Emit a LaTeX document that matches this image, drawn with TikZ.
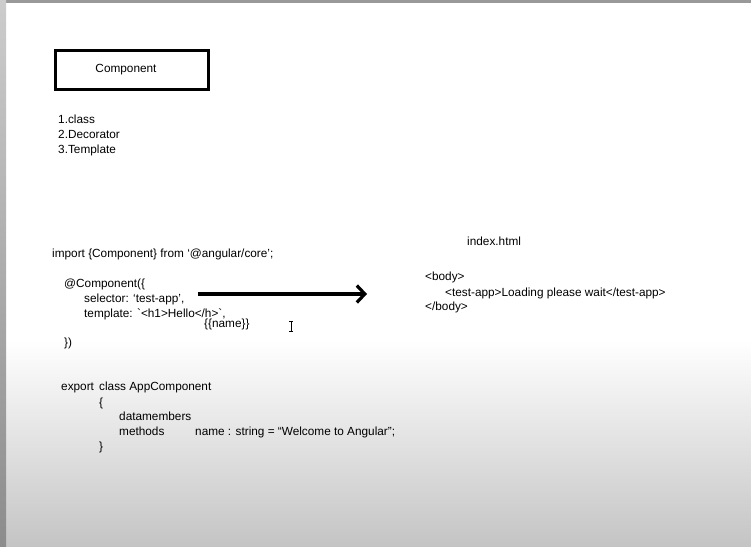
\documentclass[tikz,border=0pt]{standalone}
\usepackage{fontspec}
\setmainfont{Liberation Sans}
\usetikzlibrary{arrows.meta}

\begin{document}
\begin{tikzpicture}[x=1pt,y=-1pt,
  codeline/.style={anchor=base west,inner sep=0pt,font=\fontsize{11.8}{14}\selectfont},
  titlebox/.style={draw,line width=3pt,minimum width=153pt,minimum height=39pt,
    inner sep=0pt,font=\fontsize{11.8}{14}\selectfont}]
  % page and screen edges
  \useasboundingbox (0,0) rectangle (751,546);
  \fill[white] (0,0) rectangle (751,340);
  \shade[top color=white,bottom color=black!23] (0,340) rectangle (751,546);
  \fill[black!40] (0,0) rectangle (751,3);
  \shade[top color=black!20,bottom color=black!45] (0,0) rectangle (6,546);
  % heading and list
  \node[titlebox] (comp) at (132,70) {Component\kern12pt};
  \node[codeline] (li1) at (58,123) {1.class};
  \node[codeline] (li2) at (58,138) {2.Decorator};
  \node[codeline] (li3) at (58,153) {3.Template};
  % decorator
  \node[codeline] (imp) at (52,257) {import \{Component\} from ‘@angular/core’;};
  \node[codeline] (deco) at (64,287) {@Component(\{};
  \node[codeline] (sel) at (84,302) {selector: ‘test-app’,};
  \node[codeline] (tpl) at (84,317) {template: \textasciigrave<h1>Hello</h>\textasciigrave,};
  \node[codeline] (nm) at (204,327) {\{\{name\}\}};
  \node[codeline] (close) at (64,346) {\})};
  % index.html
  \node[codeline] (idx) at (467,245) {index.html};
  \node[codeline] (bo) at (425,280) {<body>};
  \node[codeline] (app) at (445,296) {<test-app>Loading please wait</test-app>};
  \node[codeline] (bc) at (425,310) {</body>};
  % selector to index.html
  \coordinate (arrS) at (198,294);
  \coordinate (arrE) at (367,294);
  \draw[line width=3.2pt,-{Straight Barb[length=8pt,width=17pt]}] (arrS) -- (arrE);
  % class
  \node[codeline] (exp) at (61,390) {export};
  \node[codeline] (cls) at (99,390) {class AppComponent};
  \node[codeline] (ob) at (99,406) {\{};
  \node[codeline] (dm) at (119,420) {datamembers};
  \node[codeline] (mt) at (119,435) {methods};
  \node[codeline] (nmv) at (195,435) {name : string = “Welcome to Angular”;};
  \node[codeline] (cb) at (99,450) {\}};
  % cursor
  \draw[line width=0.8pt] (291,321) -- (291,331)
    (289,321) -- (293,321) (289,331) -- (293,331);
\end{tikzpicture}
\end{document}
